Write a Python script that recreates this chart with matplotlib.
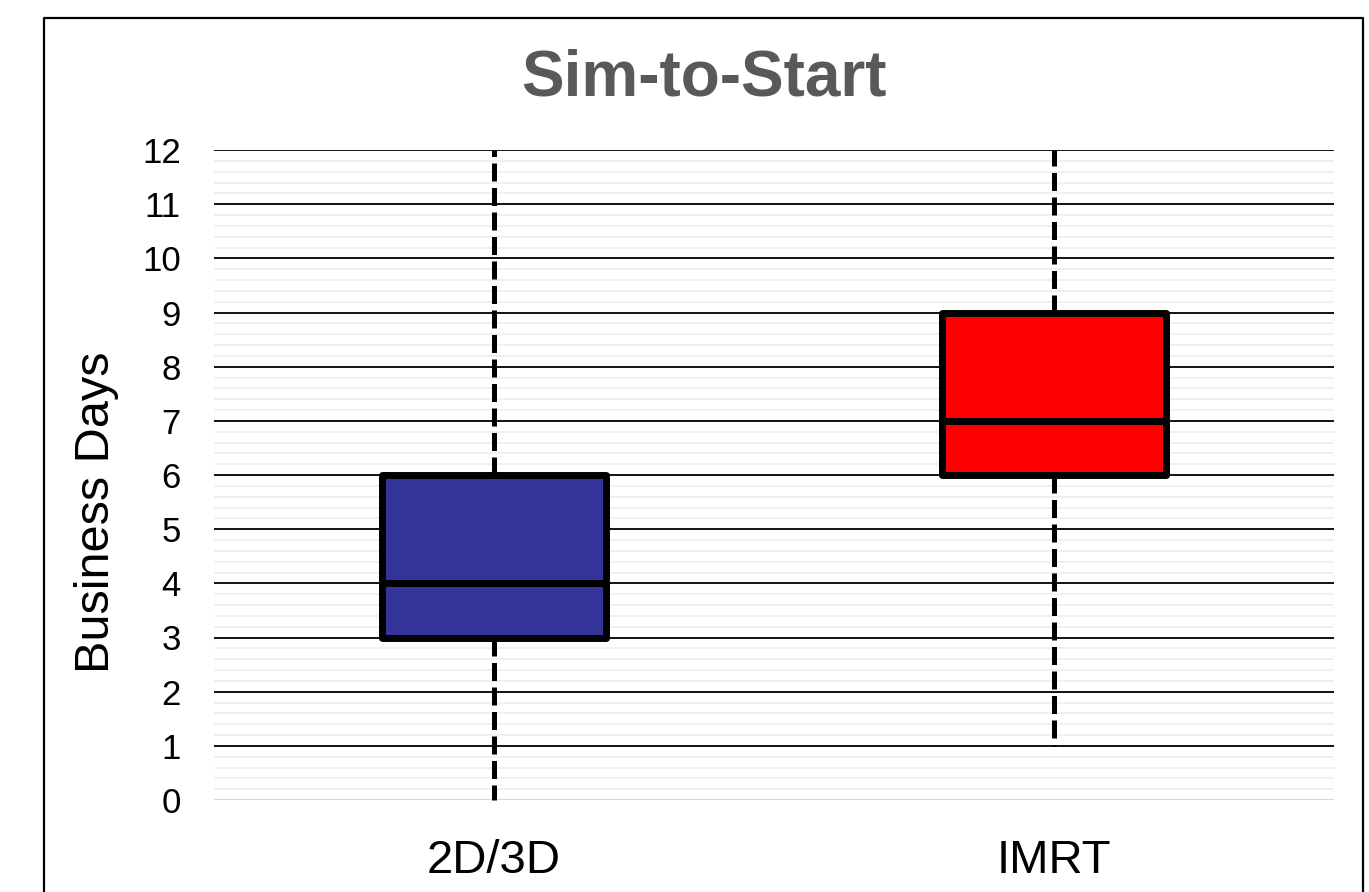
import matplotlib
matplotlib.use("Agg")
import matplotlib.pyplot as plt
from matplotlib.lines import Line2D
import numpy as np

plt.rcParams['font.family'] = ['Liberation Sans', 'DejaVu Sans']

categories = ["2D/3D", "IMRT"]
mins = [0, 1]
q1s = [3, 6]
medians = [4, 7]
q3s = [6, 9]
maxs = [12, 12]
colors = ["#333399", "#FF0000"]
yticks = list(range(0, 13))

W, H = 1369, 892
fig = plt.figure(figsize=(W / 100, H / 100), dpi=100)
ax = fig.add_axes([214 / W, 1 - 800 / H, (1334 - 214) / W, (800 - 150) / H])

# grid lines
for y in np.arange(0, 12.001, 0.2):
    if abs(y - round(y)) < 1e-6:
        continue
    ax.axhline(y, color="#ededed", lw=1.2, zorder=0)
for y in yticks[1:]:
    ax.axhline(y, color="black", lw=1.3, zorder=1)
ax.axhline(0, color="#d9d9d9", lw=2.2, zorder=1)

stats = []
for i, c in enumerate(categories):
    stats.append(dict(label=c, whislo=mins[i], q1=q1s[i], med=medians[i],
                      q3=q3s[i], whishi=maxs[i], fliers=[]))

bp = ax.bxp(stats, positions=[0, 1], widths=0.4, patch_artist=True,
            showcaps=False, showfliers=False,
            boxprops=dict(linewidth=5, edgecolor="black", joinstyle="round"),
            medianprops=dict(color="black", linewidth=5, solid_capstyle="butt"),
            whiskerprops=dict(color="black", linewidth=3.6, linestyle=(0, (3.6, 1.3))))
for patch, col in zip(bp["boxes"], colors):
    patch.set_facecolor(col)
    patch.set_zorder(3)
for m in bp["medians"]:
    m.set_zorder(4)
for w in bp["whiskers"]:
    w.set_zorder(2)
    w.set_clip_on(False)

ax.set_xlim(-0.5, 1.5)
ax.set_ylim(0, 12)
ax.set_yticks(yticks)
ax.set_xticks([0, 1])
ax.set_xticklabels(categories)
ax.tick_params(axis="y", length=0, labelsize=25, pad=24)
ax.tick_params(axis="x", length=0, labelsize=34, pad=28)
for s in ax.spines.values():
    s.set_visible(False)
ax.set_ylabel("Business Days", fontsize=35)
ax.yaxis.set_label_coords(-0.085, 0.442)

fig.text(704 / W, 1 - 79 / H, "Sim-to-Start", ha="center", va="center",
         fontsize=46, fontweight="bold", color="#595959")

# chart border (left, top, right)
fig.add_artist(Line2D([44 / W, 44 / W, 1363 / W, 1363 / W],
                      [0, 1 - 18 / H, 1 - 18 / H, 0],
                      transform=fig.transFigure, color="black", lw=1.6))

fig.savefig("out.png", dpi=100)
